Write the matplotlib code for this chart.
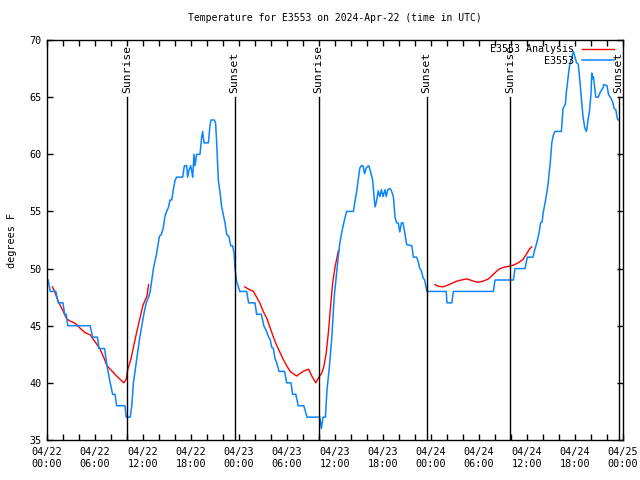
import matplotlib
matplotlib.use("Agg")
import matplotlib.pyplot as plt
import numpy as np

plt.rcParams['font.family'] = ['DejaVu Sans Mono']

title = "Temperature for E3553 on 2024-Apr-22 (time in UTC)"
ylabel = "degrees F"

# hours since 2024-04-22 00:00 UTC
obs_hours = [0.15, 0.4, 1.1, 1.4, 2.0, 2.2, 2.4, 2.6, 5.4, 5.7, 6.3, 6.5, 7.2, 7.5, 7.9, 8.2, 8.5, 8.7,
             9.75, 9.9, 10.4, 10.6, 10.8, 11.2, 11.6, 12.1, 12.4, 12.7, 12.9, 13.3, 13.7, 14.04, 14.3,
             14.54, 14.75, 14.96, 15.2, 15.375, 15.6, 15.79, 16.0, 16.21, 16.96, 17.17, 17.46, 17.58,
             17.75, 17.96, 18.1, 18.21, 18.375, 18.5, 18.71, 18.9, 19.125, 19.33, 19.46, 19.625, 20.17,
             20.375, 20.5, 20.92, 21.08, 21.21, 21.42, 21.625, 21.83, 22.04, 22.25, 22.46, 22.75, 22.96,
             23.2, 23.4, 23.5, 23.7, 24.0, 24.1, 24.96, 25.2, 26.0, 26.2, 26.8, 27.1, 27.4, 27.7, 27.9,
             28.1, 28.3, 28.5, 28.7, 29.0, 29.7, 29.96, 30.5, 30.7, 31.1, 31.4, 32.1, 32.5, 34.1, 34.3,
             34.5, 34.8, 35.0, 35.3, 35.6, 35.9, 36.2, 36.4, 36.6, 36.8, 37.0, 37.2, 37.45, 38.3, 38.5,
             38.7, 38.9, 39.1, 39.3, 39.5, 39.7, 39.9, 40.2, 40.4, 40.7, 40.85, 41.0, 41.2, 41.4, 41.6,
             41.8, 42.0, 42.25, 42.4, 42.6, 42.8, 43.0, 43.3, 43.5, 43.7, 43.9, 44.1, 44.3, 44.5, 44.7,
             44.96, 45.6, 45.8, 46.2, 46.4, 46.6, 46.8, 47.0, 47.2, 47.5, 49.9, 50.0, 50.6, 50.8, 55.8,
             56.0, 58.3, 58.5, 59.75, 60.04, 60.75, 60.95, 61.2, 61.5, 61.7, 61.9, 62.0, 62.3, 62.6,
             62.9, 63.1, 63.3, 63.5, 64.3, 64.5, 64.8, 64.9, 65.1, 65.3, 65.6, 65.8, 66.0, 66.2, 66.4,
             66.6, 66.8, 67.0, 67.2, 67.4, 67.5, 67.6, 67.8, 68.0, 68.1, 68.2, 68.3, 68.45, 68.6, 68.8,
             68.9, 69.2, 69.5, 69.6, 70.0, 70.2, 70.5, 70.7, 70.9, 71.1, 71.3, 71.4]
obs_temps = [49, 48, 48, 47, 47, 46, 46, 45, 45, 44, 44, 43, 43, 41.5, 40, 39, 39, 38,
             38, 37, 37, 38, 40, 42, 44, 46, 47, 47.5, 48, 50, 51.3, 52.8, 53,
             53.6, 54.6, 55, 55.4, 56, 56, 56.9, 57.7, 58, 58, 59, 59, 58,
             58.6, 59, 58.5, 58, 60, 59, 60, 60, 60, 61.5, 62, 61, 61,
             62.5, 63, 63, 62.7, 61, 57.7, 56.7, 55.4, 54.7, 54, 53, 52.8, 52,
             52, 51.3, 50, 48.9, 48.2, 48, 48, 47, 47, 46, 46, 45, 44.6, 44, 43.8,
             43.1, 43, 42.1, 41.8, 41, 41, 40, 40, 39, 39, 38, 38, 37, 37, 36,
             37, 37, 39.4, 41.4, 44, 47.5, 49.6, 51, 52.2, 53, 53.7, 54.3, 55, 55, 55.9,
             56.7, 57.75, 58.8, 59, 59, 58.3, 58.8, 59, 58.6, 57.75, 56.6, 55.4, 55.9, 56.8, 56.3,
             56.9, 56.3, 56.9, 56.3, 56.9, 57, 56.9, 56.3, 54.5, 54, 54, 53.2, 54, 54, 53.2,
             52.1, 52, 51, 51, 50.6, 50, 49.8, 49.2, 49, 48, 48, 47, 47, 48, 48,
             49, 49, 50, 50, 51, 51, 51.6, 52.2, 53.1, 54, 54.1, 54.8, 55.9, 57.2,
             59.2, 61, 61.7, 62, 62, 64, 64.4, 65.3, 66.5, 67.7, 68.5, 69, 68.5, 68, 67.9,
             66.5, 64.9, 63.3, 62.4, 62, 62.2, 62.9, 63.7, 65.3, 67.1, 66.6, 66.8, 65.9, 65, 65,
             65, 65.5, 65.8, 66.1, 66, 65.2, 64.9, 64.6, 64, 63.9, 63.1, 63]

ana_hours_1 = [0.67, 0.9, 1.2, 1.5, 2.0, 2.46, 2.9, 3.3, 3.7, 4.1, 4.75, 5.4, 5.8, 6.2, 6.6, 7.05,
               7.5, 7.9, 8.7, 9.6, 9.9, 10.1, 10.5, 10.8, 11.2, 11.6, 12.0, 12.5, 12.7]
ana_temps_1 = [48.4, 48.1, 47.5, 47.0, 46.3, 45.6, 45.4, 45.3, 45.1, 44.8, 44.4, 44.2, 43.8, 43.4,
               43.0, 42.3, 41.5, 41.2, 40.6, 40.0, 40.3, 41.2, 42.1, 43.1, 44.4, 45.6, 46.8, 47.6, 48.6]
ana_hours_2 = [24.7, 25.2, 25.8, 26.2, 26.6, 27.0, 27.5, 27.9, 28.3, 28.7, 29.1, 29.5, 29.96, 30.4,
               30.8, 31.2, 31.6, 32.0, 32.7, 33.1, 33.6, 33.9, 34.3, 34.6, 34.9, 35.2, 35.4, 35.7,
               36.0, 36.4, 36.5]
ana_temps_2 = [48.4, 48.2, 48.0, 47.5, 47.0, 46.3, 45.6, 44.8, 44.0, 43.3, 42.7, 42.1, 41.5, 41.0,
               40.8, 40.6, 40.8, 41.0, 41.2, 40.6, 40.0, 40.4, 40.8, 41.4, 42.6, 44.6, 46.3, 48.7,
               50.1, 51.5, 51.6]
ana_hours_3 = [48.5, 48.9, 49.5, 49.9, 50.6, 51.2, 51.8, 52.5, 53.3, 53.9, 54.5, 55.2, 55.8, 56.4,
               57.0, 57.7, 58.3, 58.9, 59.5, 59.96, 60.3, 60.6]
ana_temps_3 = [48.6, 48.45, 48.4, 48.5, 48.7, 48.9, 49.0, 49.1, 48.9, 48.8, 48.9, 49.1, 49.5, 49.9,
               50.1, 50.2, 50.3, 50.5, 50.8, 51.3, 51.7, 51.9]

sun_hours = [10.0, 23.45, 33.95, 47.45, 57.9, 71.45]
sun_labels = ["Sunrise", "Sunset", "Sunrise", "Sunset", "Sunrise", "Sunset"]

xtick_hours = [0, 6, 12, 18, 24, 30, 36, 42, 48, 54, 60, 66, 72]
xtick_labels = ["04/22\n00:00", "04/22\n06:00", "04/22\n12:00", "04/22\n18:00",
                "04/23\n00:00", "04/23\n06:00", "04/23\n12:00", "04/23\n18:00",
                "04/24\n00:00", "04/24\n06:00", "04/24\n12:00", "04/24\n18:00",
                "04/25\n00:00"]
yticks = [35, 40, 45, 50, 55, 60, 65, 70]

fig = plt.figure(figsize=(6.4, 4.8), dpi=100)
ax = fig.add_axes([47/640, 1 - 440/480, 576/640, 400/480])

red = "#FF0000"
blue = "#0A84FF"
ax.plot(ana_hours_1, ana_temps_1, color=red, lw=1.0, label="E3553 Analysis")
ax.plot(ana_hours_2, ana_temps_2, color=red, lw=1.0)
ax.plot(ana_hours_3, ana_temps_3, color=red, lw=1.0)
ax.plot(obs_hours, obs_temps, color=blue, lw=1.1, label="E3553")

for h, lab in zip(sun_hours, sun_labels):
    ax.plot([h, h], [35, 65], color="black", lw=1.0)
    ax.text(h, 65.4, lab, rotation=90, ha="center", va="bottom", fontsize=8.2)

ax.set_xlim(0, 72)
ax.set_ylim(35, 70)
ax.set_xticks(xtick_hours)
ax.set_xticklabels(xtick_labels)
ax.set_xticks(np.arange(0, 73, 2), minor=True)
ax.set_yticks(yticks)
ax.tick_params(axis="both", which="both", direction="in", top=True, right=True,
               length=4, width=1, labelsize=7.3, pad=4)
ax.tick_params(axis="x", which="major", pad=5)
for s in ax.spines.values():
    s.set_linewidth(1.0)

ax.set_title(title, fontsize=7, pad=14)
ax.set_ylabel(ylabel, fontsize=7.3, labelpad=9)

leg = ax.legend(loc="upper right", bbox_to_anchor=(0.995, 1.005), frameon=False, fontsize=7.2,
                markerfirst=False, handlelength=3.2, handletextpad=0.8, labelspacing=0.15,
                borderaxespad=0.2)

fig.savefig("out.png", dpi=100)
